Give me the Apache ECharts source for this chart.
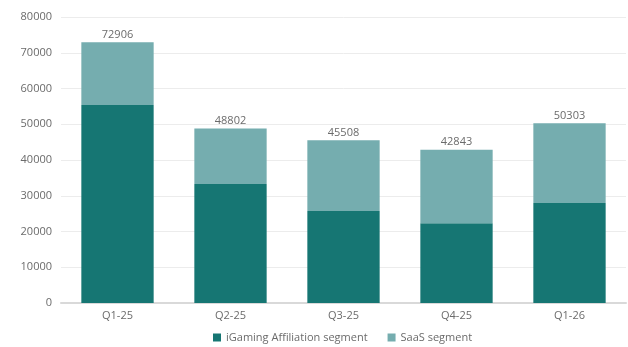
<!DOCTYPE html>
<html>
<head>
<meta charset="utf-8">
<script src="https://cdn.jsdelivr.net/npm/echarts@6/dist/echarts.min.js"></script>
<style>
  html, body { margin: 0; padding: 0; background: #ffffff; }
  #chart { width: 628px; height: 347px; }
</style>
</head>
<body>
<div id="chart"></div>
<script>
// Quarterly revenue by segment
const quarters = ['Q1-25', 'Q2-25', 'Q3-25', 'Q4-25', 'Q1-26'];
const totals = [72906, 48802, 45508, 42843, 50303];
const igamingAffiliation = [55400, 33300, 25700, 22300, 27950];
const saas = totals.map((t, i) => t - igamingAffiliation[i]);
const yTicks = [0, 10000, 20000, 30000, 40000, 50000, 60000, 70000, 80000];

const FONT = '"Open Sans", Lato, sans-serif';
const TEXT = '#6b6b6b';

const chart = echarts.init(document.getElementById('chart'), null, { renderer: 'canvas' });
chart.setOption({
  animation: false,
  backgroundColor: '#ffffff',
  textStyle: { fontFamily: FONT },
  grid: { left: 61, right: 2, top: 17, bottom: 44, containLabel: false },
  legend: {
    top: 327,
    left: 208,
    padding: 5,
    itemWidth: 8,
    itemHeight: 8,
    itemGap: 20,
    icon: 'rect',
    textStyle: { color: TEXT, fontSize: 11, fontFamily: FONT },
    data: ['iGaming Affiliation segment', 'SaaS segment']
  },
  xAxis: {
    type: 'category',
    data: quarters,
    axisTick: { show: false },
    axisLine: { lineStyle: { color: '#d9d9d9', width: 2 } },
    axisLabel: { color: TEXT, fontSize: 11, margin: 7, fontFamily: FONT }
  },
  yAxis: {
    type: 'value',
    min: yTicks[0],
    max: yTicks[yTicks.length - 1],
    interval: 10000,
    axisLine: { show: false },
    axisTick: { show: false },
    splitLine: { lineStyle: { color: '#ececec', width: 1 } },
    axisLabel: {
      color: TEXT, fontSize: 11, margin: 9, fontFamily: FONT,
      formatter: (v) => String(v)
    }
  },
  series: [
    {
      name: 'iGaming Affiliation segment',
      type: 'bar',
      stack: 'rev',
      barWidth: '64%',
      itemStyle: { color: '#167673' },
      data: igamingAffiliation
    },
    {
      name: 'SaaS segment',
      type: 'bar',
      stack: 'rev',
      barWidth: '64%',
      itemStyle: { color: '#75adaf' },
      label: {
        show: true,
        position: 'top',
        distance: 2,
        color: TEXT,
        fontSize: 11,
        fontFamily: FONT,
        formatter: (p) => String(totals[p.dataIndex])
      },
      data: saas
    }
  ]
});
</script>
</body>
</html>
